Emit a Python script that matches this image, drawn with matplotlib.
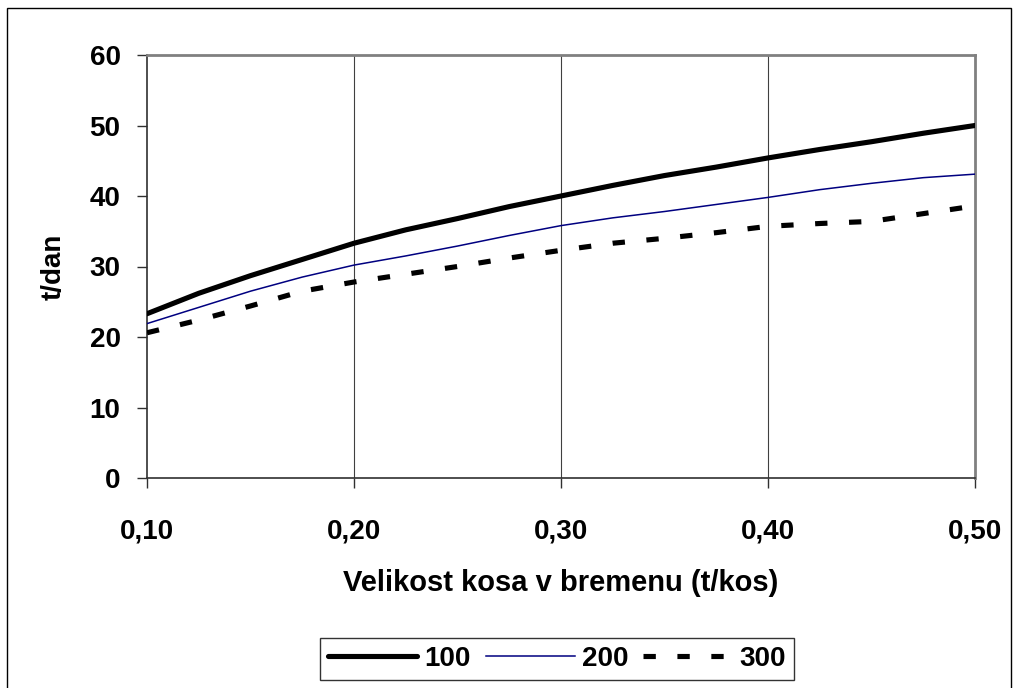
import matplotlib
matplotlib.use("Agg")
import matplotlib.pyplot as plt
from matplotlib.patches import Rectangle

x_vals = [0.100, 0.125, 0.150, 0.175, 0.200, 0.225, 0.250, 0.275, 0.300,
          0.325, 0.350, 0.375, 0.400, 0.425, 0.450, 0.475, 0.500]
s100 = [23.3, 26.2, 28.7, 31.0, 33.3, 35.2, 36.8, 38.5, 40.0,
        41.5, 42.9, 44.1, 45.4, 46.6, 47.7, 48.9, 50.0]
s200 = [21.9, 24.2, 26.5, 28.5, 30.2, 31.5, 32.9, 34.4, 35.8,
        36.9, 37.8, 38.8, 39.8, 40.9, 41.8, 42.6, 43.1]
s300 = [20.6, 22.4, 24.4, 26.5, 27.8, 28.9, 30.0, 31.2, 32.3,
        33.3, 34.0, 34.8, 35.7, 36.1, 36.4, 37.5, 38.6]
series_names = ["100", "200", "300"]
x_ticks = [0.10, 0.20, 0.30, 0.40, 0.50]
x_tick_labels = ["0,10", "0,20", "0,30", "0,40", "0,50"]
y_ticks = [0, 10, 20, 30, 40, 50, 60]

plt.rcParams['font.family'] = ['Liberation Sans', 'DejaVu Sans']
plt.rcParams['font.weight'] = 'bold'

W, H = 1013, 688
FS = 20
fig = plt.figure(figsize=(W / 100, H / 100), dpi=100)
fig.patches.append(Rectangle((7 / W, -0.01), (1011 - 7) / W, (H - 8) / H + 0.01,
                             transform=fig.transFigure, fill=False,
                             edgecolor='black', linewidth=1.0))

ax = fig.add_axes([147 / W, (H - 478) / H, (975 - 147) / W, (478 - 55) / H])
ax.set_xlim(0.10, 0.50)
ax.set_ylim(0, 60)

ax.plot(x_vals, s100, color='black', lw=3.7, solid_capstyle='round', label=series_names[0], zorder=3)
ax.plot(x_vals, s200, color='#000080', lw=1.1, label=series_names[1], zorder=3)
ax.plot(x_vals, s300, color='black', lw=3.7, dashes=[2.4, 4.2], dash_capstyle='butt',
        label=series_names[2], zorder=3)

ax.set_xticks(x_ticks)
ax.set_xticklabels(x_tick_labels)
ax.set_yticks(y_ticks)
ax.tick_params(axis='both', labelsize=FS, length=7, width=1, color='#303030')
ax.tick_params(axis='x', pad=22)
ax.tick_params(axis='y', pad=12)
for lab in ax.get_xticklabels() + ax.get_yticklabels():
    lab.set_fontweight('bold')

for xv in x_ticks[1:-1]:
    ax.axvline(xv, color='#404040', lw=0.8, zorder=1)

for s in ['left', 'bottom']:
    ax.spines[s].set_color('#303030')
    ax.spines[s].set_linewidth(1.2)
for s in ['top', 'right']:
    ax.spines[s].set_color('#808080')
    ax.spines[s].set_linewidth(2)

ax.set_xlabel("Velikost kosa v bremenu (t/kos)", fontsize=21, fontweight='bold')
ax.xaxis.label.set_va('center')
ax.xaxis.set_label_coords(0.5, -(583 - 478) / (478 - 55))
ax.set_ylabel("t/dan", fontsize=FS, fontweight='bold')
ax.yaxis.label.set_va('center')
ax.yaxis.set_label_coords(-(147 - 54) / (975 - 147), 0.5)

leg = fig.legend(loc='center', bbox_to_anchor=(557 / W, 1 - 659 / H), ncol=3,
                 fontsize=FS, frameon=True, fancybox=False, edgecolor='black',
                 handlelength=3.2, handletextpad=0.25, columnspacing=0.55,
                 borderpad=0.3, borderaxespad=0)
leg.get_frame().set_linewidth(1.0)
for t in leg.get_texts():
    t.set_fontweight('bold')

fig.savefig("out.png", dpi=100)
